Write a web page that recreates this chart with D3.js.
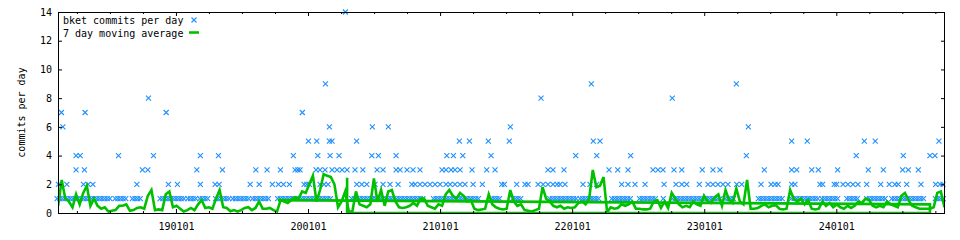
<!DOCTYPE html>
<html><head><meta charset="utf-8">
<script src="https://cdn.jsdelivr.net/npm/d3@7"></script>
<style>body{margin:0;background:#fff}svg{display:block}</style>
</head><body><svg id="chart" width="960" height="240"></svg>
<script>
// ---- data (x values are decimal years) ----
const xExtent = [2018.107, 2024.823];
const yExtent = [0, 14];
const yTickValues = [0, 2, 4, 6, 8, 10, 12, 14];
const xYearTicks = [2019, 2020, 2021, 2022, 2023, 2024];
const xQuarterTicks = [2018.25,2018.5,2018.75,2019.25,2019.5,2019.75,2020.25,2020.5,2020.75,2021.25,2021.5,2021.75,2022.25,2022.5,2022.75,2023.25,2023.5,2023.75,2024.25,2024.5,2024.75];

const oneCommit = [2018.10,2018.12,2018.14,2018.16,2018.18,2018.20,2018.22,2018.24,2018.26,2018.28,2018.30,2018.32,2018.34,2018.36,2018.38,2018.40,2018.42,2018.44,2018.46,2018.48,2018.50,
2018.54,2018.56,2018.58,2018.60,2018.62,2018.67,2018.69,2018.71,2018.73,
2018.88,2018.90,2018.92,2018.94,2018.96,2018.98,2019.00,2019.02,2019.04,2019.06,
2019.09,2019.11,2019.13,2019.15,2019.18,2019.20,2019.22,2019.24,
2019.30,2019.32,2019.34,2019.36,2019.38,2019.40,2019.43,2019.45,2019.47,2019.49,2019.51,2019.53,2019.55,
2019.58,2019.60,2019.62,2019.64,2019.66,2019.68,2019.70,
2019.77,2019.79,2019.81,2019.83,2019.85,2019.87,2019.89,2019.91,2019.93,2019.95,2019.97,2019.99,2020.01,2020.03,2020.05,2020.07,2020.09,2020.11,2020.13,2020.15,2020.17,
2020.33,2020.35,2020.37,2020.39,2020.41,2020.43,2020.45,2020.47,2020.49,2020.51,2020.53,2020.55,2020.57,2020.59,2020.61,2020.63,2020.65,2020.67,
2020.69,2020.71,2020.73,2020.75,2020.77,2020.79,2020.81,2020.83,2020.85,2020.87,
2020.95,2020.97,2020.99,2021.01,2021.03,2021.05,2021.07,2021.09,2021.11,2021.13,2021.15,2021.17,2021.19,2021.21,2021.23,2021.25,2021.27,2021.29,
2021.39,2021.41,2021.43,2021.45,2021.55,2021.57,2021.59,2021.61,
2021.83,2021.85,2021.87,2021.89,2021.91,2021.93,2021.95,2021.97,2021.99,2022.01,2022.03,
2022.06,2022.08,2022.10,2022.12,2022.14,2022.16,2022.18,2022.20,
2022.30,2022.32,2022.34,2022.36,2022.38,2022.40,2022.42,2022.44,
2022.51,2022.53,2022.55,2022.57,2022.59,2022.61,2022.63,2022.69,
2022.76,2022.78,2022.80,2022.82,2022.84,2022.86,2022.88,2022.90,2022.92,2022.94,2022.96,2022.98,2023.00,2023.02,2023.04,
2023.06,2023.08,2023.10,2023.12,2023.16,2023.18,2023.20,2023.22,
2023.41,2023.43,2023.45,2023.47,2023.49,2023.51,2023.53,2023.55,2023.57,2023.59,
2023.66,2023.68,2023.70,2023.72,2023.74,2023.76,2023.78,2023.80,2023.82,2023.84,2023.86,
2023.89,2023.91,2023.93,2023.95,2023.97,2023.99,2024.01,
2024.08,2024.10,2024.12,2024.14,2024.16,
2024.23,2024.25,2024.27,2024.29,2024.31,2024.33,2024.35,2024.37,
2024.42,2024.44,2024.46,2024.48,2024.50,2024.52,2024.54,2024.56,2024.58,2024.60,2024.62,2024.64,2024.66,
2024.75,2024.77,2024.79,2024.81];

const twoCommits = [2018.110,2018.174,2018.300,2018.335,2018.371,2018.704,2018.943,2019.011,2019.185,2019.297,2019.327,2019.562,2019.630,2019.730,2019.776,2019.814,2019.859,2019.970,2019.991,2020.010,
2020.091,2020.122,2020.152,2020.369,2020.407,2020.445,2020.508,2020.568,2020.621,2020.682,2020.786,2020.811,2020.848,2020.886,2020.924,2020.962,2021.000,2021.045,2021.076,2021.113,2021.151,2021.189,2021.250,2021.320,
2021.467,2021.487,2021.580,2021.643,2021.666,2021.742,2021.780,2021.817,2021.855,2021.886,2021.908,2021.946,2022.082,2022.135,2022.186,2022.375,2022.423,2022.476,
2022.552,2022.696,2022.786,2022.830,2022.867,2022.963,2023.029,2023.066,2023.104,2023.142,2023.180,2023.246,2023.284,2023.430,2023.506,2023.536,2023.559,2023.662,2023.687,
2023.876,2023.897,2023.985,2024.003,2024.051,2024.088,2024.126,2024.164,2024.230,2024.336,2024.401,2024.444,2024.469,2024.533,2024.641,2024.752,2024.785,2024.808];

const threeCommits = [2018.244,2018.307,2018.746,2018.787,2019.158,2019.352,2019.605,2019.690,2019.791,2019.902,2019.923,2019.940,2020.061,2020.091,2020.129,2020.182,2020.220,2020.258,2020.296,2020.356,2020.415,
2020.523,2020.568,2020.667,2020.697,2020.750,2020.795,2020.848,2021.015,2021.045,2021.083,2021.113,2021.151,2021.242,2021.353,2021.416,2021.817,2021.855,2021.938,
2022.279,2022.345,2022.423,2022.612,2022.650,2022.688,2022.771,2022.830,2022.985,2023.066,2023.119,2023.455,2023.662,2023.700,2023.814,2023.864,2024.010,2024.242,2024.356,2024.502,2024.545,2024.621];

const fourCommits = [2018.244,2018.275,2018.565,2018.830,2019.185,2019.322,2019.889,2020.074,2020.167,2020.235,2020.483,2020.533,2020.667,2021.051,2021.101,2021.172,2021.386,2022.027,2022.186,2022.443,2023.319,2024.151,2024.507,2024.709,2024.747];
const fiveCommits = [2020.003,2020.066,2020.162,2020.182,2020.368,2021.146,2021.222,2021.365,2021.524,2022.160,2022.211,2023.662,2023.780,2024.212,2024.295,2024.777];
const sixCommits = [2018.144,2020.162,2020.487,2020.608,2021.532,2023.334];
const sevenCommits = [2018.133,2018.312,2018.926,2019.957];
const eightCommits = [2018.792,2021.764,2022.758];
const nineCommits = [2020.132,2022.145,2023.243];
const fourteenCommits = [2020.283];

// 7 day moving average, sampled every ~10 days from maStart
const maStart = 2018.108;
const maStepYears = 0.027169;
const maValues = [
0.5,2.3,1.0,0.8,0.4,1.3,0.6,1.4,1.9,0.5,
1.0,0.5,0.3,0.4,0.1,0.15,0.2,0.5,0.5,0.6,
0.15,0.2,0.35,0.4,0.3,1.2,1.6,0.2,0.25,0.2,
1.3,1.5,0.4,0.5,0.3,0.1,0.2,0.35,0.2,0.6,
0.9,0.35,0.4,0.3,1.0,1.6,0.4,0.35,0.12,0.2,
0.1,0.2,0.35,0.4,0.2,0.35,0.8,0.3,0.3,0.35,
0.2,0.1,0.9,0.8,0.7,0.9,1.1,1.0,1.5,1.4,
2.0,2.6,0.8,1.6,2.7,2.6,2.5,2.0,0.4,0.8,
1.5,0.1,0.1,1.5,0.6,0.5,0.4,0.6,2.4,0.8,
1.6,0.5,1.5,1.6,0.8,0.4,0.35,0.4,0.5,0.7,
0.5,1.0,1.0,0.5,0.4,0.3,0.6,0.5,1.3,1.6,
1.2,1.0,1.4,1.2,0.8,0.9,0.3,0.2,0.25,0.3,
1.3,0.6,0.4,0.3,0.25,0.3,1.6,0.8,0.5,0.6,
0.2,0.15,0.1,0.2,0.3,1.8,1.0,0.8,0.5,0.4,
0.5,0.3,0.4,0.35,0.4,0.7,0.8,0.6,1.0,3.0,
1.8,1.9,2.5,0.05,0.4,0.3,0.35,0.6,0.5,0.6,
0.8,0.3,0.3,0.25,0.25,0.3,0.8,0.9,0.35,0.8,
0.35,1.4,1.0,0.6,0.4,0.5,0.4,0.8,0.6,0.5,
1.2,0.8,0.7,1.1,1.3,0.5,1.6,0.9,0.7,1.7,
0.8,0.6,2.3,0.3,0.3,0.35,0.5,0.6,0.4,0.5,
0.55,0.3,0.25,0.3,1.6,1.0,0.8,1.0,0.6,0.9,
0.3,0.25,0.3,0.8,0.5,0.7,0.4,0.6,0.4,0.3,
0.5,0.35,0.5,0.8,0.7,1.0,0.9,0.5,0.4,0.5,
0.4,0.8,0.6,0.5,0.4,1.2,1.4,0.9,0.5,0.4,
0.3,0.3,0.3,0.3,0.4,1.4,1.5,0.4];
// out-of-order rows in the average file draw these connecting strokes
const maWrapYears = [2019.773, 2024.709, 2024.709, 2020.296, 2020.296];
const maWrapValues = [0.9, 0.6, 0, 0, 2.45];

const seriesLabel = "bket commits per day";
const averageLabel = "7 day moving average";
const yLabel = "commits per day";

// ---- drawing ----
const W = 960, H = 240;
const m = {l: 58, r: 15, t: 12, b: 27};
const svg = d3.select("#chart");
const font = "'DejaVu Sans Mono', 'Liberation Mono', monospace";
const blue = "#1e90ff", green = "#00c000";

const x = d3.scaleLinear().domain(xExtent).range([m.l, W - m.r]);
const y = d3.scaleLinear().domain(yExtent).range([H - m.b, m.t]);

const levels = [[1, oneCommit],[2, twoCommits],[3, threeCommits],[4, fourCommits],[5, fiveCommits],[6, sixCommits],[7, sevenCommits],[8, eightCommits],[9, nineCommits],[14, fourteenCommits]];
const pts = [];
levels.forEach(([v, arr]) => arr.forEach(t => pts.push([t, v])));

const cross = "M-2.5,-2.5L2.5,2.5M-2.5,2.5L2.5,-2.5";
svg.append("g").selectAll("path").data(pts).join("path")
  .attr("d", cross)
  .attr("transform", d => `translate(${x(d[0])},${y(d[1])})`)
  .attr("stroke", blue).attr("stroke-width", 1.1).attr("fill", "none");

const maPts = maValues.map((v, i) => [maStart + i * maStepYears, v]);
const line = d3.line().x(d => x(d[0])).y(d => y(d[1]));
svg.append("clipPath").attr("id", "clip").append("rect")
  .attr("x", m.l).attr("y", m.t - 5).attr("width", W - m.r - m.l).attr("height", H - m.b - m.t + 6);
const lg = svg.append("g").attr("clip-path", "url(#clip)");
lg.append("path").datum(maPts).attr("d", line)
  .attr("fill", "none").attr("stroke", green).attr("stroke-width", 2.6).attr("stroke-linejoin", "miter");
lg.append("path").datum(maWrapYears.map((t, i) => [t, maWrapValues[i]])).attr("d", line)
  .attr("fill", "none").attr("stroke", green).attr("stroke-width", 2.6);

// axes
function styleAxis(g, labels) {
  g.select(".domain").remove();
  g.selectAll("line").attr("stroke", "#000");
  g.selectAll("text").attr("font-family", font).attr("font-size", 10).attr("fill", "#000");
  if (!labels) g.selectAll("text").remove();
}
svg.append("g").attr("transform", `translate(${m.l},0)`)
  .call(d3.axisLeft(y).tickValues(yTickValues).tickSize(-4).tickPadding(6))
  .call(g => styleAxis(g, true));
svg.append("g").attr("transform", `translate(${W - m.r},0)`)
  .call(d3.axisRight(y).tickValues(yTickValues).tickSize(-4))
  .call(g => styleAxis(g, false));
const fmt = d => String(d % 100).padStart(2, "0") + "0101";
svg.append("g").attr("transform", `translate(0,${H - m.b})`)
  .call(d3.axisBottom(x).tickValues(xYearTicks).tickSize(-4).tickPadding(10).tickFormat(fmt))
  .call(g => styleAxis(g, true));
svg.append("g").attr("transform", `translate(0,${H - m.b})`)
  .call(d3.axisBottom(x).tickValues(xQuarterTicks).tickSize(-2))
  .call(g => styleAxis(g, false));
svg.append("g").attr("transform", `translate(0,${m.t})`)
  .call(d3.axisTop(x).tickValues(xYearTicks).tickSize(-4))
  .call(g => styleAxis(g, false));
svg.append("g").attr("transform", `translate(0,${m.t})`)
  .call(d3.axisTop(x).tickValues(xQuarterTicks).tickSize(-2))
  .call(g => styleAxis(g, false));

// frame
svg.append("rect").attr("x", m.l + 0.5).attr("y", m.t + 0.5)
  .attr("width", W - m.r - m.l - 1).attr("height", H - m.b - m.t)
  .attr("fill", "none").attr("stroke", "#000").attr("stroke-width", 1);

// y label
svg.append("text").attr("transform", `translate(25,${(m.t + H - m.b) / 2}) rotate(-90)`)
  .attr("text-anchor", "middle").attr("font-family", font).attr("font-size", 10).text(yLabel);

// legend
const leg = svg.append("g");
leg.append("text").attr("x", m.l + 5).attr("y", m.t + 8).attr("dy", "0.35em")
  .attr("font-family", font).attr("font-size", 10).text(seriesLabel);
leg.append("text").attr("x", m.l + 5).attr("y", m.t + 21).attr("dy", "0.35em")
  .attr("font-family", font).attr("font-size", 10).text(averageLabel);
leg.append("path").attr("d", cross).attr("transform", `translate(${m.l + 136},${m.t + 8})`)
  .attr("stroke", blue).attr("stroke-width", 1.1).attr("fill", "none");
leg.append("line").attr("x1", m.l + 131).attr("x2", m.l + 141).attr("y1", m.t + 20.5).attr("y2", m.t + 20.5)
  .attr("stroke", green).attr("stroke-width", 2.6);
</script></body></html>
